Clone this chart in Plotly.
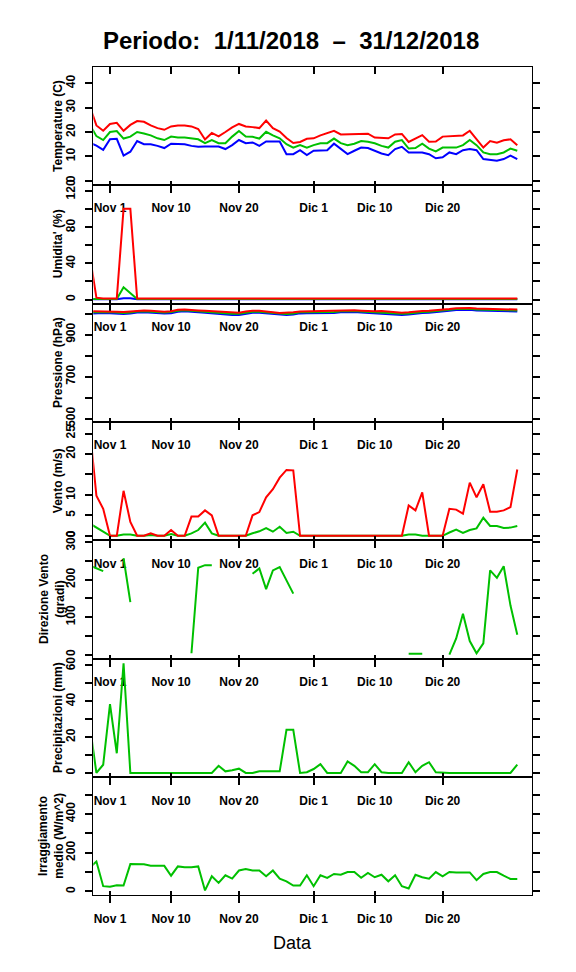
import plotly.graph_objects as go
import pandas as pd

# ---------------- data ----------------
dates = pd.date_range("2018-10-29", "2018-12-31", freq="D")

tick_dates = ["2018-11-01", "2018-11-10", "2018-11-20", "2018-12-01", "2018-12-10", "2018-12-20"]
tick_labels = ["Nov 1", "Nov 10", "Nov 20", "Dic 1", "Dic 10", "Dic 20"]

temp_max = [30.8, 22.7, 20.5, 23.3, 23.8, 20.5, 22.9, 24.5, 24.2, 22.7, 21.6, 20.9, 22.3, 22.7, 22.7, 22.3,
            21.2, 16.9, 19.6, 18.2, 20.0, 21.9, 23.3, 22.3, 22.0, 21.6, 24.7, 21.6, 20.2, 17.5, 15.5, 15.9,
            17.2, 17.4, 18.6, 19.4, 20.5, 19.0, 19.0, 19.1, 19.3, 19.3, 17.7, 17.6, 17.4, 19.0, 19.2, 15.9,
            17.4, 18.7, 16.0, 16.1, 18.1, 18.2, 18.3, 18.6, 20.5, 17.0, 13.6, 16.3, 15.6, 16.6, 17.0, 14.6]
temp_mean = [23.1, 18.3, 16.7, 20.0, 20.4, 17.3, 18.1, 20.0, 19.4, 18.6, 17.4, 16.7, 18.1, 17.7, 17.7, 17.4,
             17.0, 15.4, 16.7, 15.4, 15.4, 18.1, 20.4, 18.1, 18.0, 17.3, 20.1, 18.6, 17.4, 15.0, 13.6, 14.6,
             13.6, 14.6, 15.4, 15.4, 17.3, 15.4, 14.6, 15.2, 16.3, 16.0, 15.4, 14.3, 13.6, 16.0, 16.7, 13.2,
             13.4, 15.2, 13.2, 12.0, 13.6, 13.6, 13.6, 14.6, 16.7, 14.6, 11.6, 10.9, 10.9, 11.6, 13.2, 12.3]
temp_min = [15.7, 14.4, 12.7, 17.0, 17.2, 10.3, 11.9, 16.3, 15.0, 15.0, 14.3, 13.4, 15.2, 15.1, 15.0, 14.3,
            13.9, 14.0, 14.0, 14.0, 13.0, 14.6, 16.7, 15.4, 15.7, 14.3, 16.1, 16.1, 16.1, 10.9, 10.9, 12.5,
            10.5, 12.3, 12.5, 12.5, 15.2, 13.0, 10.9, 12.3, 13.6, 13.4, 12.3, 11.2, 10.5, 13.0, 13.9, 11.6,
            11.6, 11.6, 10.9, 9.2, 9.6, 11.6, 10.9, 12.5, 13.0, 12.5, 8.9, 8.6, 8.2, 8.9, 10.3, 8.9]

hum_max = [50.0, 2.0, 1.2, 1.2, 1.2, 100.5, 100.5] + [1.2] * 57
hum_mean = [0.6, 0.6, 0.6, 0.6, 0.6, 13.5, 7.0] + [0.6] * 57
hum_min = [0.2, 0.2, 0.2, 0.2, 0.2, 1.5, 1.5] + [0.2] * 57

pres_max = [1011, 1011, 1012, 1011, 1009, 1008, 1010, 1014, 1015, 1013, 1010, 1009, 1011, 1018, 1020, 1019,
            1015, 1013, 1011, 1008, 1006, 1004, 1004, 1010, 1014, 1013, 1011, 1006, 1003, 1003, 1006, 1010,
            1011, 1011, 1012, 1013, 1012, 1015, 1017, 1016, 1014, 1012, 1011, 1012, 1010, 1006, 1004, 1006,
            1010, 1012, 1013, 1015, 1019, 1022, 1026, 1028, 1027, 1024, 1023, 1024, 1023, 1022, 1021, 1019]
pres_mean = [1006, 1007, 1008, 1007, 1005, 1003, 1005, 1010, 1011, 1009, 1006, 1005, 1007, 1014, 1016, 1015,
             1011, 1009, 1006, 1003, 1001, 999, 999, 1005, 1009, 1009, 1006, 1001, 998, 998, 1001, 1006,
             1007, 1007, 1008, 1009, 1008, 1011, 1013, 1012, 1010, 1008, 1007, 1007, 1005, 1001, 999, 1001,
             1006, 1008, 1009, 1011, 1015, 1018, 1022, 1024, 1023, 1020, 1019, 1020, 1019, 1018, 1017, 1015]
pres_min = [1000, 1002, 1003, 1002, 1000, 998, 1000, 1005, 1006, 1004, 1001, 1000, 1002, 1009, 1011, 1010,
            1006, 1004, 1001, 998, 995, 993, 993, 999, 1004, 1004, 1001, 996, 993, 993, 996, 1001,
            1002, 1002, 1003, 1004, 1003, 1006, 1008, 1007, 1005, 1003, 1002, 1001, 999, 995, 993, 996,
            1001, 1003, 1004, 1006, 1010, 1013, 1017, 1019, 1018, 1015, 1014, 1015, 1014, 1013, 1012, 1010]

wind_max = [26.5, 9.8, 6.6, 0, 0, 11.0, 3.4, 0, 0, 0.6, 0, 0, 1.4, 0, 0, 4.7,
            4.7, 6.2, 5.0, 0, 0, 0, 0, 0, 5.0, 5.8, 9.4, 11.4, 14.2, 16.1, 16.0, 0,
            0, 0, 0, 0, 0, 0, 0, 0, 0, 0, 0, 0, 0, 0, 0, 7.4,
            6.2, 10.6, 0, 0, 0, 6.6, 6.4, 5.4, 13.0, 9.4, 12.6, 5.9, 5.9, 6.2, 7.0, 16.2]
wind_mean = [3.0, 1.9, 1.0, 0, 0, 0.3, 0.3, 0, 0, 0.2, 0, 0, 0.4, 0, 0, 0.6,
             1.4, 3.2, 0.6, 0, 0, 0, 0, 0, 0.6, 1.1, 1.9, 1.0, 2.2, 0.7, 1.0, 0,
             0, 0, 0, 0, 0, 0, 0, 0, 0, 0, 0, 0, 0, 0, 0, 0.3,
             0.3, 0, 0, 0, 0, 0.8, 1.5, 0.7, 1.4, 1.8, 4.4, 2.4, 2.4, 1.9, 2.0, 2.4]

N = None
wind_dir = [238, 231, 223, N, N, 258, 140, N, N, N, N, N, N, N, N, 3.5,
            232, 239, 239, N, N, N, N, N, 216, 230, 175, 225, 234, 200, 163, N,
            N, N, N, N, N, N, N, N, N, N, N, N, N, N, N, 2,
            2, 2, N, N, N, 0, 43, 109, 36, 3.5, 30, 225, 205, 236, 131, 53]

rain = [27.3, 0, 4.6, 38.4, 11.0, 61.2, 0, 0, 0, 0, 0, 0, 0, 0, 0, 0,
        0, 0, 0, 4.0, 0.9, 1.5, 2.4, 0, 0, 0.9, 0.9, 0.9, 0.9, 24.1, 24.1, 0,
        0.4, 2.2, 4.9, 0, 0, 0, 6.4, 4.0, 0.4, 0.4, 4.9, 0.4, 0, 0, 0, 6.0,
        0.4, 4.0, 6.0, 0.4, 0, 0, 0, 0, 0, 0, 0, 0, 0, 0, 0, 4.6]

irr = [123, 154, 27, 24, 32, 30, 141, 141, 140, 132, 132, 132, 81, 129, 125, 125,
       129, 5, 78, 44, 83, 66, 108, 115, 108, 108, 78, 108, 66, 52, 30, 30,
       83, 27, 83, 70, 90, 86, 100, 100, 70, 95, 73, 86, 52, 83, 27, 15,
       86, 73, 66, 100, 78, 100, 98, 98, 98, 58, 90, 100, 100, 81, 64, 64]

# ---------------- styling / layout ----------------
# the page body keeps its default 8px margin, so the figure is drawn 8px in
OFF = 8
W, H = 576 - 2 * OFF, 972 - 2 * OFF


def px(x):
    return (x - OFF) / W


def py(y):
    return 1 - (y - OFF) / H


RED, GREEN, BLUE = "#FF0000", "#00C000", "#0000FF"
FONT = "Liberation Sans, Arial, Helvetica, sans-serif"

x_left, x_right = 93.3, 531.7
bounds = [58.0, 177.3, 298.3, 418.5, 538.6, 659.0, 779.3, 899.3]
xrange_ = [pd.Timestamp("2018-10-29 13:00"), pd.Timestamp("2019-01-02 03:00")]

panels = [
    dict(series=[(temp_min, BLUE), (temp_mean, GREEN), (temp_max, RED)],
         rng=[-1.62, 46.6], tv=[0, 10, 20, 30, 40], tt=["0", "10", "20", "30", "40"],
         title="Temperature (C)"),
    dict(series=[(hum_min, BLUE), (hum_mean, GREEN), (hum_max, RED)],
         rng=[-4.7, 127.3], tv=[0, 20, 40, 60, 80, 100, 120], tt=["0", "", "40", "", "80", "", "120"],
         title="Umidita' (%)"),
    dict(series=[(pres_min, BLUE), (pres_mean, GREEN), (pres_max, RED)],
         rng=[483.6, 1046.9], tv=[500, 600, 700, 800, 900, 1000], tt=["500", "", "700", "", "900", ""],
         title="Pressione (hPa)"),
    dict(series=[(wind_mean, GREEN), (wind_max, RED)],
         rng=[-1.1, 27.8], tv=[0, 5, 10, 15, 20, 25], tt=["0", "5", "10", "", "20", "25"],
         title="Vento (m/s)"),
    dict(series=[(wind_dir, GREEN)],
         rng=[-11.3, 305.5], tv=[0, 50, 100, 150, 200, 250, 300], tt=["0", "", "100", "", "200", "", "300"],
         title="Direzione Vento<br>(gradi)"),
    dict(series=[(rain, GREEN)],
         rng=[-2.36, 63.7], tv=[0, 10, 20, 30, 40, 50, 60], tt=["0", "", "20", "", "40", "", "60"],
         title="Precipitazioni (mm)"),
    dict(series=[(irr, GREEN)],
         rng=[-20.3, 590], tv=[0, 100, 200, 300, 400, 500], tt=["0", "", "200", "", "400", ""],
         title="Irraggiamento<br>medio (W/m^2)"),
]

fig = go.Figure()
layout = dict(
    width=W, height=H,
    margin=dict(l=0, r=0, t=0, b=0),
    paper_bgcolor="white", plot_bgcolor="rgba(0,0,0,0)",
    showlegend=False,
    font=dict(family=FONT, color="black", size=12),
)
annotations = []
xdom = [px(x_left), px(x_right)]
tickfont = dict(family=FONT, size=12, color="black", weight="bold")

for k, p in enumerate(panels, start=1):
    xs = "x" if k == 1 else f"x{k}"
    ys = "y" if k == 1 else f"y{k}"
    for vals, col in p["series"]:
        fig.add_trace(go.Scatter(x=dates, y=vals, mode="lines", xaxis=xs, yaxis=ys,
                                 line=dict(color=col, width=2), connectgaps=False,
                                 hoverinfo="skip"))
    top, bot = bounds[k - 1], bounds[k]
    layout["xaxis" if k == 1 else f"xaxis{k}"] = dict(
        domain=xdom, anchor=ys, range=xrange_, type="date",
        tickvals=tick_dates, ticktext=tick_labels, tickfont=tickfont,
        ticks="outside", ticklen=7, tickwidth=2, tickcolor="black",
        ticklabelstandoff=5,
        showline=True, linewidth=1, linecolor="black", mirror=True,
        showgrid=False, zeroline=False,
    )
    layout["yaxis" if k == 1 else f"yaxis{k}"] = dict(
        domain=[py(bot), py(top)], anchor=xs, range=p["rng"],
        tickvals=p["tv"], ticktext=p["tt"], tickangle=-90, tickfont=tickfont,
        ticks="outside", ticklen=7, tickwidth=2, tickcolor="black",
        ticklabelstandoff=6,
        showline=True, linewidth=1, linecolor="black", mirror="ticks",
        showgrid=False, zeroline=False,
    )
    # short inward stubs of the bottom ticks (ticks straddle the frame)
    ov = 8 + k
    layout[f"xaxis{ov}"] = dict(
        domain=xdom, anchor=ys, overlaying=xs, side="bottom", range=xrange_, type="date",
        tickvals=tick_dates, showticklabels=False,
        ticks="inside", ticklen=4, tickwidth=2, tickcolor="black",
        showline=False, showgrid=False, zeroline=False,
    )
    fig.add_trace(go.Scatter(x=dates[:1], y=[None], xaxis=f"x{ov}", yaxis=ys,
                             mode="lines", hoverinfo="skip"))
    annotations.append(dict(
        text=p["title"], textangle=-90, x=px(51.5) if "<br>" in p["title"] else px(58.0),
        y=py((top + bot) / 2), xref="paper", yref="paper",
        xanchor="center", yanchor="middle", showarrow=False,
        font=dict(family=FONT, size=12, color="black", weight="bold"),
    ))

# top ticks of the first panel (pointing inward)
layout["xaxis8"] = dict(
    domain=xdom, anchor="y", overlaying="x", side="top", range=xrange_, type="date",
    tickvals=tick_dates, showticklabels=False,
    ticks="inside", ticklen=7, tickwidth=2, tickcolor="black",
    showline=False, showgrid=False, zeroline=False,
)
fig.add_trace(go.Scatter(x=dates[:1], y=[None], xaxis="x8", yaxis="y",
                         mode="lines", hoverinfo="skip"))

annotations.append(dict(
    text="Periodo:\u00a0\u00a01/11/2018\u00a0\u00a0\u2013\u00a0\u00a031/12/2018",
    x=px(291), y=py(30.5), xref="paper", yref="paper",
    xanchor="center", yanchor="middle", showarrow=False,
    font=dict(family=FONT, size=24, color="black", weight="bold"),
))
annotations.append(dict(
    text="Data", x=px(292), y=py(948), xref="paper", yref="paper",
    xanchor="center", yanchor="middle", showarrow=False,
    font=dict(family=FONT, size=18, color="black"),
))
layout["annotations"] = annotations
fig.update_layout(**layout)

fig.write_html("out.html")
